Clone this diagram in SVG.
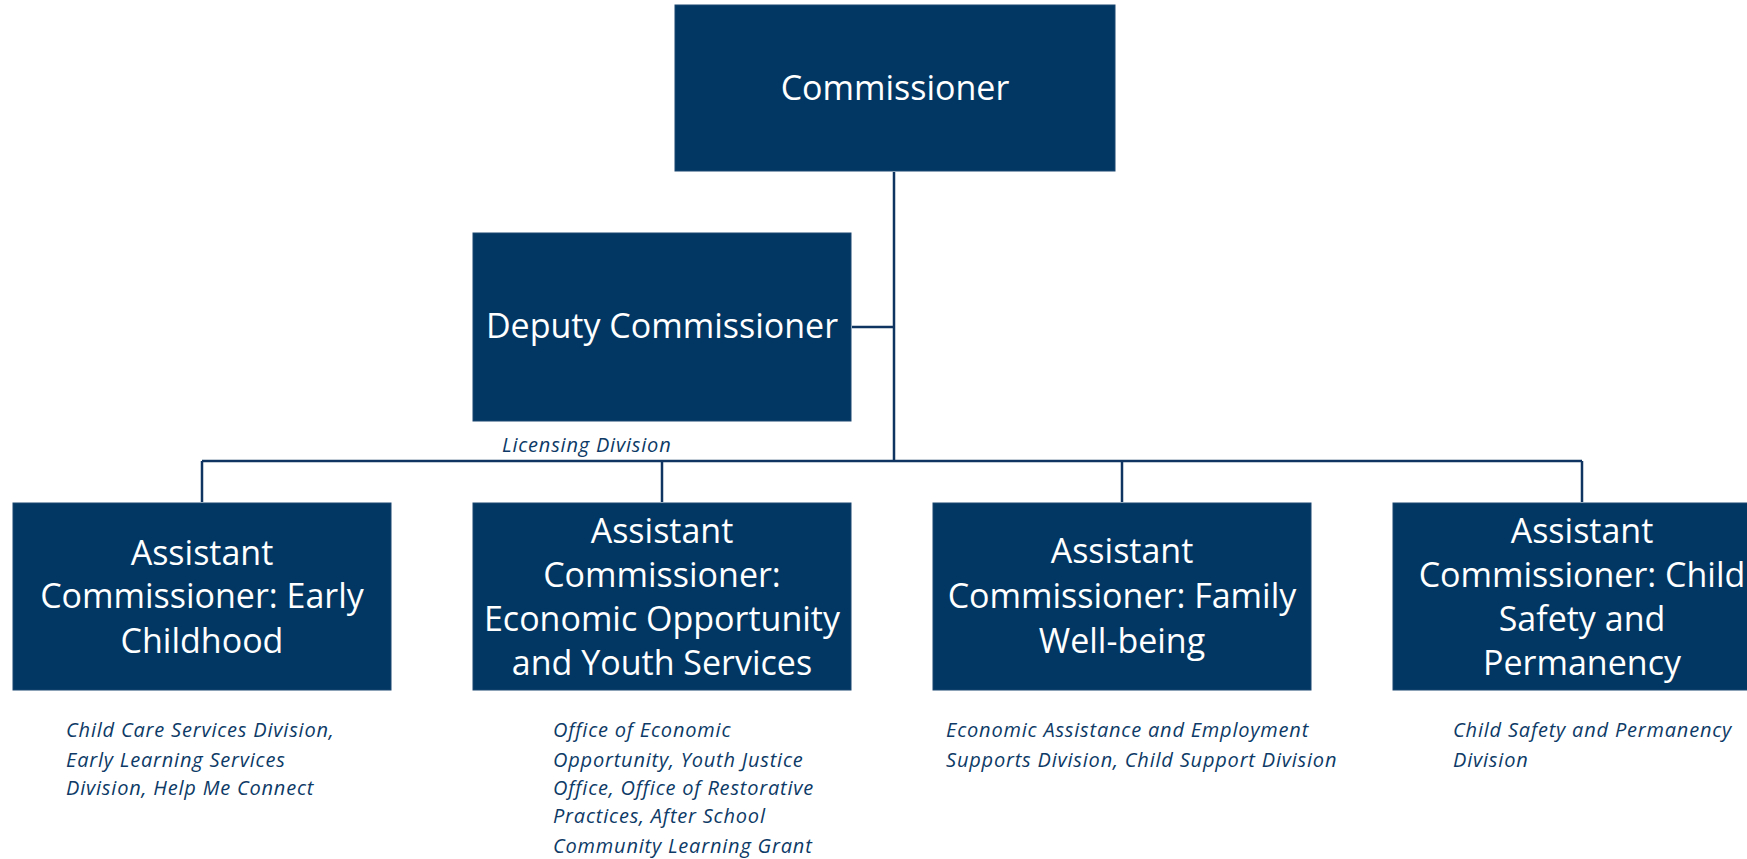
<svg xmlns="http://www.w3.org/2000/svg" width="1747" height="859" viewBox="0 0 1747 859">
<style>
.box{fill:#023764;stroke:#1a4670;stroke-width:1}
.t{font-family:"Open Sans","Noto Sans",sans-serif;font-size:34px;fill:#ffffff;text-anchor:middle}
.s{font-family:"Open Sans","Noto Sans",sans-serif;font-size:20px;font-style:italic;letter-spacing:0.8px;fill:#0d3a66}
.c{stroke:#0f3461;stroke-width:2.5;fill:none}
</style>
<rect width="1747" height="859" fill="#ffffff"/>
<g id="connectors">
<line class="c" x1="894" y1="172" x2="894" y2="461"/>
<line class="c" x1="852" y1="327" x2="894" y2="327"/>
<line class="c" x1="202" y1="461" x2="1582" y2="461"/>
<line class="c" x1="202" y1="461" x2="202" y2="502"/>
<line class="c" x1="662" y1="461" x2="662" y2="502"/>
<line class="c" x1="1122" y1="461" x2="1122" y2="502"/>
<line class="c" x1="1582" y1="461" x2="1582" y2="502"/>
</g>
<g id="commissioner">
<rect class="box" x="675" y="5" width="440" height="166"/>
<text class="t" x="895" y="100">Commissioner</text>
</g>
<g id="deputy">
<rect class="box" x="473" y="233" width="378" height="188"/>
<text class="t" x="662" y="338">Deputy Commissioner</text>
<text class="s" x="502" y="452">Licensing Division</text>
</g>
<g id="ac-early">
<rect class="box" x="13" y="503" width="378" height="187"/>
<text class="t" x="202" y="565">Assistant</text>
<text class="t" x="202" y="608">Commissioner: Early</text>
<text class="t" x="202" y="653">Childhood</text>
<text class="s" x="66" y="737">Child Care Services Division,</text>
<text class="s" x="66" y="767">Early Learning Services</text>
<text class="s" x="66" y="795">Division, Help Me Connect</text>
</g>
<g id="ac-econ">
<rect class="box" x="473" y="503" width="378" height="187"/>
<text class="t" x="662" y="543">Assistant</text>
<text class="t" x="662" y="587">Commissioner:</text>
<text class="t" x="662" y="631">Economic Opportunity</text>
<text class="t" x="662" y="675">and Youth Services</text>
<text class="s" x="553" y="737">Office of Economic</text>
<text class="s" x="553" y="767">Opportunity, Youth Justice</text>
<text class="s" x="553" y="795">Office, Office of Restorative</text>
<text class="s" x="553" y="823">Practices, After School</text>
<text class="s" x="553" y="853">Community Learning Grant</text>
</g>
<g id="ac-family">
<rect class="box" x="933" y="503" width="378" height="187"/>
<text class="t" x="1122" y="563">Assistant</text>
<text class="t" x="1122" y="608">Commissioner: Family</text>
<text class="t" x="1122" y="653">Well-being</text>
<text class="s" x="946" y="737">Economic Assistance and Employment</text>
<text class="s" x="946" y="767">Supports Division, Child Support Division</text>
</g>
<g id="ac-child">
<rect class="box" x="1393" y="503" width="378" height="187"/>
<text class="t" x="1582" y="543">Assistant</text>
<text class="t" x="1582" y="587">Commissioner: Child</text>
<text class="t" x="1582" y="631">Safety and</text>
<text class="t" x="1582" y="675">Permanency</text>
<text class="s" x="1453" y="737">Child Safety and Permanency</text>
<text class="s" x="1453" y="767">Division</text>
</g>
</svg>
